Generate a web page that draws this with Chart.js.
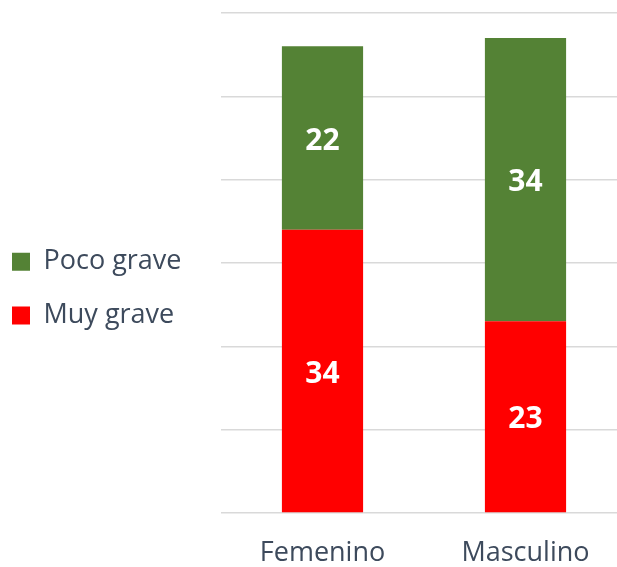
<!DOCTYPE html>
<html>
<head>
<meta charset="utf-8">
<script src="https://cdn.jsdelivr.net/npm/chart.js@4/dist/chart.umd.min.js"></script>
<style>
    html, body { margin: 0; padding: 0; background: #fff; overflow: hidden; }
    #wrap { width: 627px; height: 567px; }
</style>
</head>
<body>
<div id="wrap"><canvas id="myChart"></canvas></div>
<script>
const categories = ['Femenino', 'Masculino'];
const muyGrave = [34, 23];
const pocoGrave = [22, 34];
const yTicks = [0, 10, 20, 30, 40, 50, 60];

const textColor = '#3d4a5c';
const gridColor = '#d9d9d9';

// white numbers in the middle of each bar segment
const barLabels = {
    id: 'barLabels',
    afterDatasetsDraw(chart) {
        const ctx = chart.ctx;
        ctx.save();
        ctx.fillStyle = '#ffffff';
        ctx.font = 'bold 30px "Open Sans"';
        ctx.textAlign = 'center';
        ctx.textBaseline = 'middle';
        chart.data.datasets.forEach((ds, i) => {
            const meta = chart.getDatasetMeta(i);
            meta.data.forEach((bar, j) => {
                ctx.fillText(ds.data[j], bar.x, (bar.y + bar.base) / 2 + 3);
            });
        });
        ctx.restore();
    }
};

var ctx = document.getElementById('myChart').getContext('2d');
var chart = new Chart(ctx, {
    type: 'bar',
    data: {
        labels: categories,
        datasets: [{
            label: 'Muy grave',
            data: muyGrave,
            backgroundColor: '#ff0000'
        }, {
            label: 'Poco grave',
            data: pocoGrave,
            backgroundColor: '#548235'
        }]
    },
    options: {
        responsive: true,
        maintainAspectRatio: false,
        animation: false,
        devicePixelRatio: 1,
        layout: { padding: { top: 13, bottom: 0, left: 0, right: 0 } },
        datasets: {
            bar: { barPercentage: 0.4, categoryPercentage: 1 }
        },
        plugins: {
            tooltip: { enabled: false },
            legend: {
                position: 'left',
                reverse: true,
                maxWidth: 220,
                // empty title only pushes the items down a little
                title: { display: true, text: ' ', padding: 0, font: { size: 10, lineHeight: 1.2 } },
                labels: {
                    boxWidth: 18,
                    boxHeight: 18,
                    padding: 12,
                    color: textColor,
                    font: { family: '"Open Sans"', size: 27, lineHeight: 1.55 },
                    // array text so the row height follows the font line height
                    generateLabels: c => Chart.defaults.plugins.legend.labels.generateLabels(c)
                        .map(item => Object.assign(item, { text: [item.text] }))
                }
            }
        },
        scales: {
            x: {
                stacked: true,
                grid: { display: false, drawTicks: false },
                border: { display: false },
                afterFit: s => { s.height = 54; },
                ticks: {
                    color: textColor,
                    padding: 27,
                    font: { family: '"Open Sans"', size: 27, lineHeight: 1.0 }
                }
            },
            y: {
                stacked: true,
                min: yTicks[0],
                max: yTicks[yTicks.length - 1],
                afterBuildTicks: s => { s.ticks = yTicks.map(v => ({ value: v })); },
                afterFit: s => { s.width = Math.max(0, 221 - s.chart.legend.width); },
                ticks: { display: false },
                border: { display: false },
                grid: { color: gridColor, lineWidth: 1.5, drawTicks: false }
            }
        }
    },
    plugins: [barLabels]
});
</script>
</body>
</html>
